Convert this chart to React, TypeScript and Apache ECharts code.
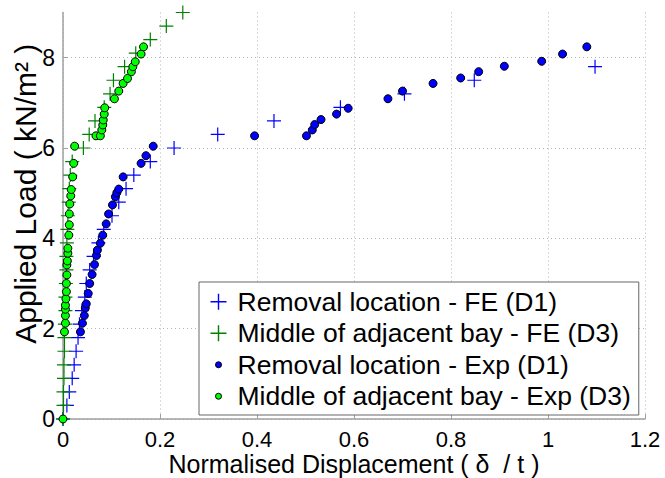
import React, { useEffect, useRef } from "react";
import * as echarts from "echarts";

// FE results (load steps of 0.3 kN/m2)
const feD1Load = [0, 0.3, 0.6, 0.9, 1.2, 1.5, 1.8, 2.1, 2.4, 2.7, 3.0, 3.3, 3.6, 3.9, 4.2, 4.5, 4.8, 5.1, 5.4, 5.7, 6.0, 6.3, 6.6, 6.9, 7.2, 7.5, 7.8];
const feD1Disp = [0, 0.008, 0.013, 0.019, 0.023, 0.027, 0.031, 0.034, 0.039, 0.045, 0.048, 0.055, 0.063, 0.073, 0.084, 0.101, 0.115, 0.130, 0.146, 0.180, 0.229, 0.319, 0.435, 0.572, 0.704, 0.848, 1.097];

const feD3Load = [0, 0.3, 0.6, 0.9, 1.2, 1.5, 1.8, 2.1, 2.4, 2.7, 3.0, 3.3, 3.6, 3.9, 4.2, 4.5, 4.8, 5.1, 5.4, 5.7, 6.0, 6.3, 6.6, 6.9, 7.2, 7.5, 7.8, 8.1, 8.4, 8.7, 9.0];
const feD3Disp = [0, 0.001, 0.001, 0.002, 0.002, 0.003, 0.003, 0.004, 0.005, 0.005, 0.006, 0.007, 0.007, 0.008, 0.009, 0.010, 0.012, 0.013, 0.015, 0.019, 0.042, 0.054, 0.066, 0.085, 0.097, 0.104, 0.127, 0.150, 0.180, 0.213, 0.247];

// Experimental results
const expD1Load = [1.93, 2.12, 2.29, 2.46, 2.55, 2.78, 3.00, 3.20, 3.42, 3.62, 3.74, 3.89, 4.07, 4.32, 4.54, 4.74, 4.92, 5.01, 5.09, 5.36, 5.66, 5.83, 6.04, 6.27, 6.27, 6.40, 6.52, 6.63, 6.75, 6.88, 7.09, 7.26, 7.43, 7.55, 7.69, 7.81, 7.92, 8.08, 8.24];
const expD1Disp = [0.036, 0.040, 0.044, 0.046, 0.048, 0.052, 0.055, 0.060, 0.065, 0.069, 0.071, 0.077, 0.082, 0.089, 0.094, 0.102, 0.108, 0.111, 0.115, 0.124, 0.161, 0.171, 0.186, 0.395, 0.502, 0.514, 0.519, 0.532, 0.564, 0.588, 0.670, 0.700, 0.763, 0.820, 0.857, 0.910, 0.987, 1.030, 1.080];

const expD3Load = [0, 1.93, 2.12, 2.29, 2.43, 2.52, 2.66, 2.82, 3.00, 3.19, 3.41, 3.50, 3.67, 3.78, 4.07, 4.30, 4.54, 4.76, 4.94, 5.08, 5.36, 5.66, 6.04, 6.27, 6.27, 6.40, 6.51, 6.62, 6.75, 6.89, 7.09, 7.26, 7.43, 7.54, 7.69, 7.80, 7.91, 8.08, 8.24];
const expD3Disp = [0, 0.003, 0.005, 0.005, 0.005, 0.005, 0.006, 0.007, 0.007, 0.008, 0.008, 0.009, 0.010, 0.010, 0.012, 0.013, 0.013, 0.014, 0.016, 0.017, 0.020, 0.022, 0.024, 0.068, 0.077, 0.080, 0.082, 0.083, 0.085, 0.086, 0.106, 0.115, 0.124, 0.133, 0.141, 0.144, 0.149, 0.161, 0.166];

const seriesNames = [
  "Removal location - FE (D1)",
  "Middle of adjacent bay - FE (D3)",
  "Removal location - Exp (D1)",
  "Middle of adjacent bay - Exp (D3)",
];

const BLUE = "#0000ff";
const DARK_GREEN = "#008000";
const LIGHT_GREEN = "#00ff00";

const PLUS = "path://M6.4,0h1.2v6.4h6.4v1.2h-6.4v6.4h-1.2v-6.4h-6.4v-1.2h6.4z";
const PLUS_ICON = "path://M0,0h0M22,16h0M7.3,0h1.4v7.3h7.3v1.4h-7.3v7.3h-1.4v-7.3h-7.3v-1.4h7.3z";
const DOT_ICON = "path://M0,0h0M22,16h0M5,8a3,3 0 1,0 6,0a3,3 0 1,0 -6,0z";

const zip = (xs: number[], ys: number[]) => xs.map((x, i) => [x, ys[i]]);

const FONT = "'Liberation Sans', Arial, Helvetica, sans-serif";

export default function App() {
  const ref = useRef<HTMLDivElement>(null);
  useEffect(() => {
    if (!ref.current) return;
    const chart = echarts.init(ref.current, null, { renderer: "svg" });
    const axisGray = "#a0a0a0";
    chart.setOption({
      animation: false,
      backgroundColor: "#ffffff",
      textStyle: { fontFamily: FONT },
      grid: { left: 63, right: 20, top: 12.5, bottom: 59, containLabel: false, outerBoundsMode: "none" },
      xAxis: {
        type: "value",
        min: 0,
        max: 1.2,
        interval: 0.2,
        name: "Normalised Displacement ( δ  / t )",
        nameLocation: "middle",
        nameGap: 32,
        nameMoveOverlap: false,
        nameTextStyle: { fontSize: 25, color: "#000", fontFamily: FONT },
        axisLine: { show: true, onZero: false, lineStyle: { color: axisGray, width: 1.5 } },
        axisTick: { show: true, inside: true, length: 5, lineStyle: { color: axisGray } },
        axisLabel: { fontSize: 22, color: "#000", margin: 9, fontFamily: FONT },
        splitLine: { show: true, lineStyle: { color: "#b4b4b4", type: [1, 3], width: 1 } },
      },
      yAxis: {
        type: "value",
        min: 0,
        max: 9,
        interval: 2,
        name: "Applied Load ( kN/m² )",
        nameLocation: "middle",
        nameGap: 23,
        nameMoveOverlap: false,
        nameTextStyle: { fontSize: 30, color: "#000", fontFamily: FONT, padding: [0, 0, 0, 44] },
        axisLine: { show: true, onZero: false, lineStyle: { color: axisGray, width: 1.5 } },
        axisTick: { show: true, inside: true, length: 5, lineStyle: { color: axisGray } },
        axisLabel: { fontSize: 23, color: "#000", margin: 8, showMaxLabel: false, fontFamily: FONT },
        splitLine: { show: true, showMaxLine: false, lineStyle: { color: "#b4b4b4", type: [1, 3], width: 1 } },
      },
      legend: {
        orient: "vertical",
        left: 199,
        top: 282,
        padding: [4, 8, 3, 11],
        itemGap: 0,
        itemWidth: 22,
        itemHeight: 16,
        borderColor: "#666",
        borderWidth: 1,
        backgroundColor: "#fff",
        textStyle: { fontSize: 26.5, color: "#000", lineHeight: 31.5, fontFamily: FONT },
        data: [
          { name: seriesNames[0], icon: PLUS_ICON, itemStyle: { color: BLUE, borderWidth: 0 } },
          { name: seriesNames[1], icon: PLUS_ICON, itemStyle: { color: DARK_GREEN, borderWidth: 0 } },
          { name: seriesNames[2], icon: DOT_ICON, itemStyle: { color: BLUE, borderColor: "#000", borderWidth: 1 } },
          { name: seriesNames[3], icon: DOT_ICON, itemStyle: { color: LIGHT_GREEN, borderColor: "#000", borderWidth: 1 } },
        ],
      },
      series: [
        {
          name: seriesNames[0],
          type: "scatter",
          symbol: PLUS,
          symbolSize: 14,
          itemStyle: { color: BLUE, borderWidth: 0, opacity: 1 },
          data: zip(feD1Disp, feD1Load),
          z: 2,
        },
        {
          name: seriesNames[1],
          type: "scatter",
          symbol: PLUS,
          symbolSize: 14,
          itemStyle: { color: DARK_GREEN, borderWidth: 0, opacity: 1 },
          data: zip(feD3Disp, feD3Load),
          z: 3,
        },
        {
          name: seriesNames[2],
          type: "scatter",
          symbol: "circle",
          symbolSize: 8,
          itemStyle: { color: BLUE, borderColor: "#000", borderWidth: 1, opacity: 1 },
          data: zip(expD1Disp, expD1Load),
          z: 4,
        },
        {
          name: seriesNames[3],
          type: "scatter",
          symbol: "circle",
          symbolSize: 8,
          itemStyle: { color: LIGHT_GREEN, borderColor: "#000", borderWidth: 1, opacity: 1 },
          data: zip(expD3Disp, expD3Load),
          z: 5,
        },
      ],
    });
    return () => chart.dispose();
  }, []);
  return (
    <div
      ref={ref}
      style={{ position: "fixed", left: 0, top: 0, width: 665, height: 478, background: "#fff" }}
    />
  );
}
